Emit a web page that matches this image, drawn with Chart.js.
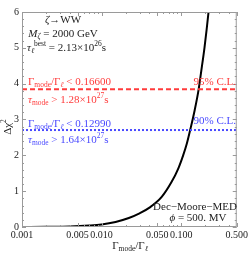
<!DOCTYPE html>
<html>
<head>
<meta charset="utf-8">
<script src="https://cdn.jsdelivr.net/npm/chart.js@4"></script>
<style>
  html, body { margin: 0; padding: 0; background: #fff; }
  #wrap { width: 250px; height: 254px; }
</style>
</head>
<body>
<div id="wrap"><canvas id="chart" width="250" height="254"></canvas></div>
<script>
// values
const ratio = [0.001, 0.002, 0.004, 0.007, 0.01, 0.015, 0.022, 0.03, 0.04, 0.057, 0.076, 0.092, 0.106, 0.118, 0.13, 0.148, 0.166, 0.179, 0.197, 0.221, 0.24];
const deltaChi2 = [0, 0.004, 0.013, 0.04, 0.07, 0.14, 0.25, 0.38, 0.54, 0.84, 1.26, 1.63, 2.0, 2.33, 2.71, 3.26, 3.84, 4.35, 5.02, 6.0, 6.84];
const cl95 = 3.841;
const cl90 = 2.706;
const xRange = [0.001, 0.5];
const xTicks = [0.001, 0.005, 0.01, 0.05, 0.1, 0.5];
const xTickLabels = ['0.001', '0.005', '0.010', '0.050', '0.100', '0.500'];
const xMinor = [0.002, 0.003, 0.004, 0.006, 0.007, 0.008, 0.009, 0.02, 0.03, 0.04, 0.06, 0.07, 0.08, 0.09, 0.2, 0.3, 0.4];
const yTicks = [0, 1, 2, 3, 4, 5, 6];

const SERIF = '"Liberation Serif", "DejaVu Serif", serif';
const RED = '#ff3b3b';
const BLUE = '#4a4aff';

// draw text made of pieces: [text, flags]  i = italic, b = subscript, p = superscript
function rich(ctx, x, y, parts, color, size, align) {
  const fontOf = p => (p[1].includes('i') ? 'italic ' : '') +
    ((p[1].includes('b') || p[1].includes('p')) ? size * 0.68 : size) + 'px ' + SERIF;
  let w = 0;
  parts.forEach(p => { ctx.font = fontOf(p); w += ctx.measureText(p[0]).width; });
  let cx = align === 'center' ? x - w / 2 : align === 'right' ? x - w : x;
  ctx.fillStyle = color;
  ctx.textAlign = 'left';
  ctx.textBaseline = 'middle';
  parts.forEach(p => {
    ctx.font = fontOf(p);
    let dy = p[1].includes('b') ? size * 0.3 : p[1].includes('p') ? -size * 0.4 : 0;
    ctx.fillText(p[0], cx, y + dy);
    cx += ctx.measureText(p[0]).width;
  });
}

const overlay = {
  id: 'overlay',
  afterDraw(chart) {
    const ctx = chart.ctx;
    const a = chart.chartArea;
    const xs = chart.scales.x, ys = chart.scales.y;
    ctx.save();
    // frame
    ctx.strokeStyle = '#9a9a9a';
    ctx.lineWidth = 1;
    ctx.strokeRect(a.left + 0.5, a.top + 0.5, a.right - a.left - 1, a.bottom - a.top - 1);
    // inward ticks
    ctx.beginPath();
    const xt = (v, len) => {
      const px = Math.round(xs.getPixelForValue(v)) + 0.5;
      ctx.moveTo(px, a.bottom); ctx.lineTo(px, a.bottom - len);
      ctx.moveTo(px, a.top); ctx.lineTo(px, a.top + len);
    };
    xTicks.forEach(v => xt(v, 4));
    xMinor.forEach(v => xt(v, 2));
    for (let v = 0; v <= 6.001; v += 0.2) {
      const py = Math.round(ys.getPixelForValue(v)) + 0.5;
      const len = Math.abs(v - Math.round(v)) < 1e-6 ? 4 : 2;
      ctx.moveTo(a.left, py); ctx.lineTo(a.left + len, py);
      ctx.moveTo(a.right, py); ctx.lineTo(a.right - len, py);
    }
    ctx.stroke();

    const s = 11;
    const dark = '#222';
    rich(ctx, 63, 20, [['ζ', 'i'], ['→WW', '']], dark, s, 'center');
    rich(ctx, 63, 34, [['M', 'i'], ['ζ', 'ib'], [' = 2000 GeV', '']], dark, s, 'center');
    rich(ctx, 27, 48, [['τ', 'i'], ['ℓ', 'ib'], ['best', 'p'], [' = 2.13×10', ''], ['26', 'p'], ['s', '']], dark, s, 'left');

    rich(ctx, 28, 82, [['Γ', ''], ['mode', 'b'], ['/Γ', ''], ['ℓ', 'ib'], [' < 0.16600', '']], RED, s, 'left');
    rich(ctx, 28, 100, [['τ', 'i'], ['mode', 'b'], [' > 1.28×10', ''], ['27', 'p'], ['s', '']], RED, s, 'left');
    rich(ctx, 236, 82, [['95% C.L.', '']], RED, s, 'right');

    rich(ctx, 28, 124, [['Γ', ''], ['mode', 'b'], ['/Γ', ''], ['ℓ', 'ib'], [' < 0.12990', '']], BLUE, s, 'left');
    rich(ctx, 28, 140, [['τ', 'i'], ['mode', 'b'], [' > 1.64×10', ''], ['27', 'p'], ['s', '']], BLUE, s, 'left');
    rich(ctx, 236, 121, [['90% C.L.', '']], BLUE, s, 'right');

    rich(ctx, 237, 207, [['Dec−Moore−MED', '']], dark, s, 'right');
    rich(ctx, 198, 218, [['ϕ', 'i'], [' = 500. MV', '']], dark, s, 'center');

    // axis titles
    rich(ctx, 130, 246, [['Γ', ''], ['mode', 'b'], ['/Γ', ''], ['ℓ', 'ib']], dark, s, 'center');
    ctx.translate(8, 127);
    ctx.rotate(-Math.PI / 2);
    rich(ctx, 0, 0, [['Δχ', ''], ['2', 'p']], dark, s, 'center');
    ctx.restore();
  }
};

const hline = v => xRange.map(x => ({ x: x, y: v }));

new Chart(document.getElementById('chart').getContext('2d'), {
  type: 'scatter',
  data: {
    datasets: [
      {
        data: hline(cl95),
        showLine: true,
        borderColor: RED,
        borderWidth: 2,
        borderDash: [5, 3],
        pointRadius: 0,
      },
      {
        data: hline(cl90),
        showLine: true,
        borderColor: BLUE,
        borderWidth: 2,
        borderDash: [2, 2],
        pointRadius: 0,
      },
      {
        data: ratio.map((x, i) => ({ x: x, y: deltaChi2[i] })),
        showLine: true,
        borderColor: '#000',
        borderWidth: 2,
        cubicInterpolationMode: 'monotone',
        pointRadius: 0,
      },
    ],
  },
  options: {
    responsive: false,
    animation: false,
    events: [],
    layout: { padding: { top: 12, right: 12, left: 0, bottom: 0 } },
    plugins: { legend: { display: false }, tooltip: { enabled: false } },
    scales: {
      x: {
        type: 'logarithmic',
        min: xRange[0],
        max: xRange[1],
        grid: { display: false, drawTicks: false },
        border: { display: false },
        afterBuildTicks: scale => { scale.ticks = xTicks.map(v => ({ value: v })); },
        afterFit: scale => { scale.height = 27; },
        ticks: {
          autoSkip: false,
          maxRotation: 0,
          padding: 2,
          color: '#222',
          font: { family: SERIF, size: 10 },
          callback: (v) => xTickLabels[xTicks.indexOf(v)],
        },
      },
      y: {
        min: 0,
        max: 6,
        grid: { display: false, drawTicks: false },
        border: { display: false },
        afterBuildTicks: scale => { scale.ticks = yTicks.map(v => ({ value: v })); },
        afterFit: scale => { scale.width = 22; },
        ticks: {
          padding: 3,
          color: '#222',
          font: { family: SERIF, size: 10 },
        },
      },
    },
  },
  plugins: [overlay],
});
</script>
</body>
</html>
